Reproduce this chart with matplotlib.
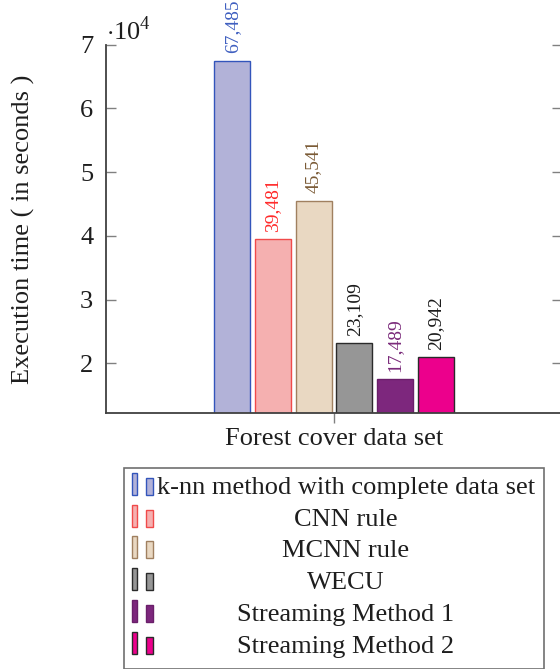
import matplotlib
matplotlib.use('Agg')

import matplotlib.pyplot as plt
from matplotlib.patches import Rectangle

# data
methods = ['k-nn method with complete data set', 'CNN rule', 'MCNN rule',
           'WECU', 'Streaming Method 1', 'Streaming Method 2']
times = [67485, 39481, 45541, 23109, 17489, 20942]
value_labels = ['67,485', '39,481', '45,541', '23,109', '17,489', '20,942']
dataset = 'Forest cover data set'
yticks = [20000, 30000, 40000, 50000, 60000, 70000]
ytick_labels = ['2', '3', '4', '5', '6', '7']

# styles
fills = ['#b2b2d8', '#f5b0b0', '#e9d8c2', '#969696', '#7d277d', '#ec008c']
edges = ['#3355bb', '#f04a4a', '#a08060', '#2a2a2a', '#6a1f6a', '#2a2a2a']
label_colors = ['#3f5fc0', '#ff2a2a', '#7a5a35', '#1a1a1a', '#7a2a7a', '#1a1a1a']

plt.rcParams['font.family'] = ['Liberation Serif', 'DejaVu Serif']
plt.rcParams['mathtext.fontset'] = 'custom'
plt.rcParams['mathtext.rm'] = 'Liberation Serif'

FS = 19
TXT = '#1e1e1e'
W, H = 560, 669
fig = plt.figure(figsize=(W / 100, H / 100), dpi=100)

ax_l, ax_r, ax_t, ax_b = 105.7, 562.3, 44.7, 413.0
ax = fig.add_axes([ax_l / W, 1 - ax_b / H, (ax_r - ax_l) / W, (ax_b - ax_t) / H])

spacing = 0.0891
width = 0.0788
n = len(times)
for i, (t, lab) in enumerate(zip(times, value_labels)):
    x = (i - (n - 1) / 2) * spacing
    ax.bar(x, t, width=width, bottom=0, color=fills[i], edgecolor=edges[i],
           linewidth=1.0, zorder=2)
    ax.annotate(lab, (x, t), xytext=(0, 5.5), textcoords='offset points',
                rotation=90, ha='center', va='bottom', fontsize=14,
                color=label_colors[i], clip_on=False)

ax.set_xlim(-0.5, 0.5)
ax.set_ylim(12200, 70000)
ax.set_yticks(yticks)
ax.set_yticklabels(ytick_labels, fontsize=FS, color=TXT)
ax.set_xticks([0])
ax.set_xticklabels([dataset], fontsize=FS, color=TXT)

for s in ['top', 'right']:
    ax.spines[s].set_visible(False)
for s in ['left', 'bottom']:
    ax.spines[s].set_color('#404040')
    ax.spines[s].set_linewidth(1.3)

ax.tick_params(axis='y', which='both', direction='in', length=7, width=1.0,
               color='#808080', right=True, pad=9)
ax.tick_params(axis='x', direction='out', length=7, width=1.0,
               color='#808080', pad=4)

ax.set_ylabel('Execution time ( in seconds )', fontsize=FS, color=TXT)
ax.yaxis.set_label_coords(-0.155, 0.5)
ax.text(0.0, 1.0, r'$\cdot 10^{4}$', transform=ax.transAxes, fontsize=FS,
        ha='left', va='bottom', color=TXT)

# legend drawn by hand, pgfplots style (two small bars + centred text)
lx0, ly0, lx1 = 124, 468.3, 544.3
fig.add_artist(Rectangle((lx0 / W, 0), (lx1 - lx0) / W, 1 - ly0 / H,
                         transform=fig.transFigure, fill=False,
                         edgecolor='#707070', linewidth=1.2))
row_h = 31.7
for i, m in enumerate(methods):
    yb = 495 + i * row_h
    fig.add_artist(Rectangle((131.7 / W, 1 - yb / H), 5.7 / W, 22 / H,
                             transform=fig.transFigure, facecolor=fills[i],
                             edgecolor=edges[i], linewidth=1.0))
    fig.add_artist(Rectangle((145.7 / W, 1 - yb / H), 7.6 / W, 17 / H,
                             transform=fig.transFigure, facecolor=fills[i],
                             edgecolor=edges[i], linewidth=1.0))
    fig.text(346 / W, 1 - (488 + i * row_h) / H, m, fontsize=FS,
             ha='center', va='center', color=TXT)

fig.savefig('out.png', dpi=100)
